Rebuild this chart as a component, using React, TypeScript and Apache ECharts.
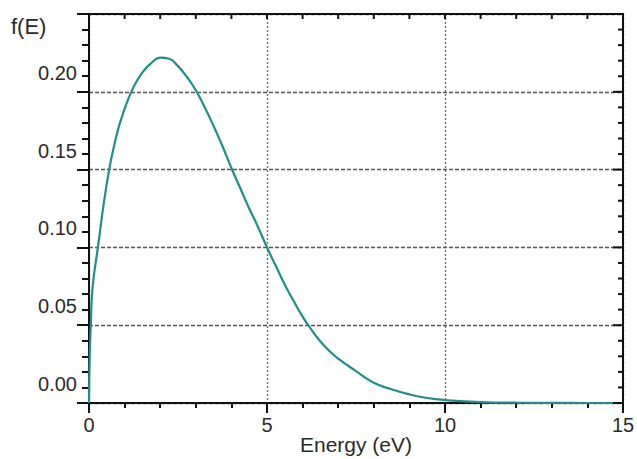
import React, { useEffect, useRef } from "react";
import * as echarts from "echarts";

const energy = [0, 0.02, 0.05, 0.1, 0.25, 0.5, 0.75, 1.0, 1.25, 1.5, 1.75, 2.0, 2.25, 2.5, 2.75, 3.0, 3.25, 3.5, 3.75, 4.0, 4.25, 4.5, 4.75, 5.0, 5.25, 5.5, 5.75, 6.0, 6.25, 6.5, 6.75, 7.0, 7.5, 8.0, 8.5, 9.0, 9.5, 10, 11, 12, 13, 14, 15];
const fE = [0, 0.03, 0.05, 0.074, 0.1, 0.141, 0.17, 0.189, 0.203, 0.2125, 0.2185, 0.222, 0.2212, 0.2165, 0.2095, 0.201, 0.19, 0.178, 0.165, 0.151, 0.138, 0.125, 0.113, 0.1, 0.088, 0.076, 0.0655, 0.0555, 0.047, 0.0395, 0.0335, 0.0285, 0.0205, 0.013, 0.0088, 0.0055, 0.0032, 0.0019, 0.0006, 0.0002, 0.0001, 0, 0];

const xTickLabels = ["0", "5", "10", "15"];
const yTickLabels = ["0.00", "0.05", "0.10", "0.15", "0.20"];

const FONT = "'Liberation Sans', Arial, Helvetica, sans-serif";
const TEXT = "#2a2a2a";
const INK = "#111";

const GRID = { left: 89, right: 14, top: 14, bottom: 56 };
const W = 637;
const H = 459;

export default function App() {
  const ref = useRef<HTMLDivElement>(null);
  useEffect(() => {
    if (!ref.current) return;
    const chart = echarts.init(ref.current, null, { renderer: "svg" });
    const mkLine = () => ({ show: true, onZero: false, lineStyle: { color: INK, width: 2 } });
    const points = energy.map((e, i) => [e, fE[i]]);
    const x1 = GRID.left;
    const x2 = W - GRID.right;
    const y1 = GRID.top;
    const y2 = H - GRID.bottom;
    const baseGraphic: any[] = [
      {
        type: "text",
        left: 11,
        top: 15,
        style: { text: "f(E)", font: `22px ${FONT}`, fill: TEXT },
      },
      {
        type: "polyline",
        z: 50,
        silent: true,
        shape: { points: [[x1, y1], [x2, y1], [x2, y2]] },
        style: { fill: null, stroke: INK, lineWidth: 2 },
      },
    ];
    chart.setOption({
      animation: false,
      backgroundColor: "#fff",
      grid: {
        ...GRID,
        containLabel: false,
        outerBoundsMode: "none",
      },
      graphic: baseGraphic,
      xAxis: {
        type: "value",
        position: "bottom",
        min: 0,
        max: 15,
        interval: 5,
        axisLine: mkLine(),
        axisTick: { show: true, inside: false, length: 10, lineStyle: { color: INK, width: 2 } },
        minorTick: { show: true, splitNumber: 5, length: 5, lineStyle: { color: INK, width: 2 } },
        splitLine: { show: true, lineStyle: { color: "#666", width: 1.3, type: [2, 2] } },
        axisLabel: {
          show: true,
          margin: 12,
          fontSize: 20,
          fontFamily: FONT,
          color: TEXT,
          formatter: (v: number) => xTickLabels[Math.round(v / 5)] ?? "",
        },
        name: "Energy (eV)",
        nameLocation: "middle",
        nameGap: 31,
        nameMoveOverlap: false,
        nameTextStyle: { fontSize: 21, fontFamily: FONT, color: TEXT },
      },
      yAxis: {
        type: "value",
        position: "left",
        min: 0,
        max: 0.25,
        interval: 0.05,
        axisLine: mkLine(),
        axisTick: { show: true, inside: false, length: 12, lineStyle: { color: INK, width: 2 } },
        minorTick: { show: true, splitNumber: 5, length: 7, lineStyle: { color: INK, width: 2 } },
        splitLine: { show: true, lineStyle: { color: "#555", width: 1.3, type: [4, 2] } },
        axisLabel: {
          show: true,
          margin: 12,
          fontSize: 20,
          fontFamily: FONT,
          color: TEXT,
          verticalAlign: "bottom",
          padding: [0, 0, 9, 0],
          formatter: (v: number) => yTickLabels[Math.round(v / 0.05)] ?? "",
        },
      },
      series: [
        {
          type: "line",
          data: points,
          showSymbol: false,
          smooth: 0.5,
          lineStyle: { color: "#1f8f8a", width: 2.2 },
          z: 3,
        },
      ],
    });

    // Mirror ticks on the top and right frame, placed through the chart's own scales.
    const ticks: any[] = [];
    for (let i = 0; i <= 15; i++) {
      const px = chart.convertToPixel({ xAxisIndex: 0 }, i) as number;
      ticks.push({
        type: "line",
        z: 50,
        silent: true,
        shape: { x1: px, y1: y1, x2: px, y2: y1 + 5 },
        style: { stroke: INK, lineWidth: 2 },
      });
    }
    for (let j = 0; j <= 25; j++) {
      const py = chart.convertToPixel({ yAxisIndex: 0 }, j / 100) as number;
      const len = j % 5 === 0 ? 10 : 5;
      ticks.push({
        type: "line",
        z: 50,
        silent: true,
        shape: { x1: x2 - len, y1: py, x2: x2, y2: py },
        style: { stroke: INK, lineWidth: 2 },
      });
    }
    chart.setOption({ graphic: [...baseGraphic, ...ticks] });

    return () => chart.dispose();
  }, []);
  return (
    <div
      ref={ref}
      style={{ position: "fixed", left: 0, top: 0, width: W, height: H }}
    />
  );
}
